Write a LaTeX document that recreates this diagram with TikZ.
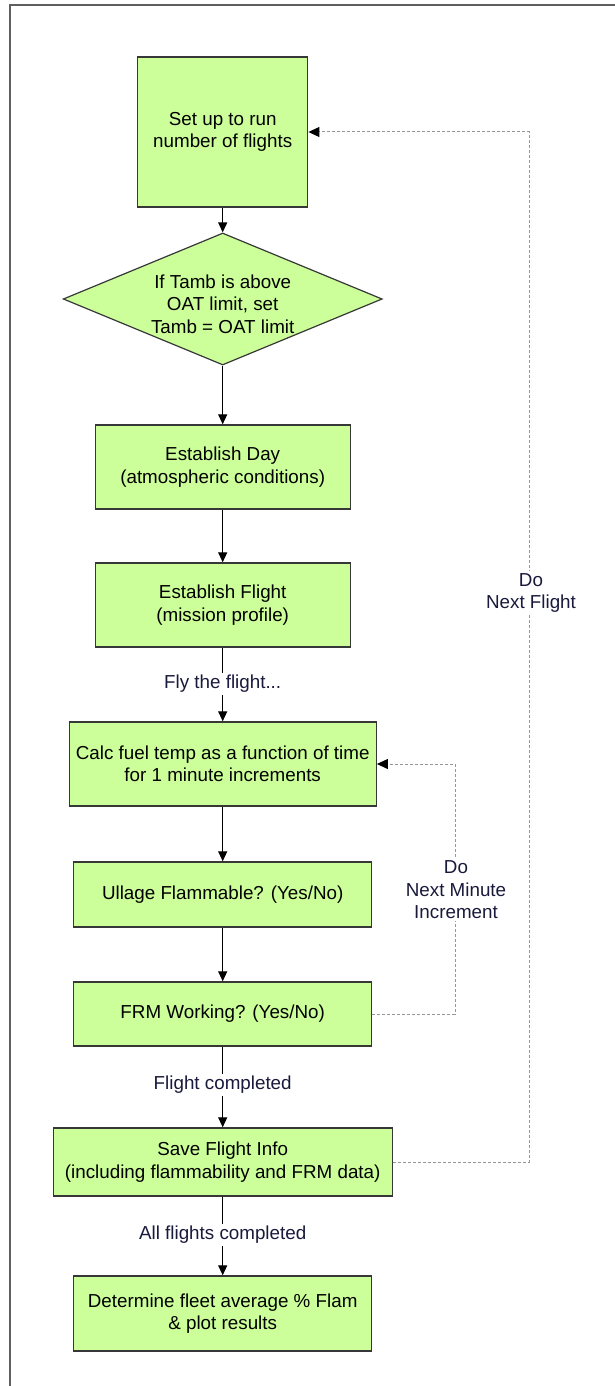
\documentclass[tikz,border=0pt]{standalone}
\usepackage{fontspec}
\setmainfont{Liberation Sans}
\usetikzlibrary{arrows.meta,shapes.geometric}
\definecolor{boxfill}{RGB}{204,255,153}
\definecolor{boxline}{RGB}{55,55,55}
\definecolor{dashgray}{RGB}{150,150,150}
\definecolor{framegray}{RGB}{95,95,95}
\definecolor{lbltext}{RGB}{25,25,60}
\begin{document}
\begin{tikzpicture}[x=1pt,y=-1pt,
  every node/.style={font=\fontsize{18.8}{22.5}\selectfont},
  flowbox/.style={draw=boxline,fill=boxfill,line width=1.4pt,rectangle,align=center,inner sep=0pt},
  decide/.style={draw=boxline,fill=boxfill,line width=1.2pt,diamond,inner sep=0pt},
  flowarrow/.style={-{Triangle[length=10pt,width=9pt]},line width=1.2pt,draw=black},
  looparrow/.style={-{Triangle[length=11pt,width=10pt,color=black]},draw=dashgray,line width=1pt,dash pattern=on 3pt off 2pt},
  lbl/.style={fill=white,inner sep=2pt,align=center,text=lbltext}
]
\useasboundingbox (0,0) rectangle (615,1386);
\fill[white] (0,0) rectangle (615,1386);
\draw[framegray,line width=2pt] (10,1386) -- (10,5) -- (615,5);

\node[flowbox,minimum width=170pt,minimum height=150pt] (setup) at (222.7,132) {Set up to run\\number of flights};
\node[decide,minimum width=319pt,minimum height=132pt] (dia) at (222.7,299) {};
\node[align=center,inner sep=0pt] (diatext) at (222.7,304) {If Tamb is above\\OAT limit, set\\Tamb = OAT limit};
\node[flowbox,minimum width=255pt,minimum height=84pt] (day) at (222.7,467) {Establish Day\\(atmospheric conditions)};
\node[flowbox,minimum width=255pt,minimum height=84pt] (flight) at (222.7,605) {Establish Flight\\(mission profile)};
\node[flowbox,minimum width=307pt,minimum height=84pt] (calc) at (222.7,764) {Calc fuel temp as a function of time\\for 1 minute increments};
\node[flowbox,minimum width=298pt,minimum height=65pt] (ullage) at (222.7,894.5) {Ullage Flammable? (Yes/No)};
\node[flowbox,minimum width=298pt,minimum height=64pt] (frm) at (222.7,1014) {FRM Working? (Yes/No)};
\node[flowbox,minimum width=339pt,minimum height=68pt] (save) at (222.7,1162) {Save Flight Info\\(including flammability and FRM data)};
\node[flowbox,minimum width=298pt,minimum height=75pt] (det) at (222.7,1313.5) {Determine fleet average \% Flam\\\& plot results};

\draw[flowarrow] (setup) -- (dia);
\draw[flowarrow] (dia) -- (day);
\draw[flowarrow] (day) -- (flight);
\draw[flowarrow] (flight) -- (calc);
\draw[flowarrow] (calc) -- (ullage);
\draw[flowarrow] (ullage) -- (frm);
\draw[flowarrow] (frm) -- (save);
\draw[flowarrow] (save) -- (det);

\node[lbl] (fly) at (222.7,684) {Fly the flight...};
\node[lbl] (fcomp) at (222.7,1085) {Flight completed};
\node[lbl] (allcomp) at (222.7,1235) {All flights completed};

\coordinate (inner) at (455,890);
\coordinate (outer) at (529,593);
\draw[looparrow] (frm.east) -| (inner) |- (calc.east);
\draw[looparrow] (save.east) -| (outer) |- (setup.east);
\node[lbl] (nextmin) at (456,890) {Do\\Next Minute\\Increment};
\node[lbl] (nextfl) at (531,593) {Do\\Next Flight};
\end{tikzpicture}
\end{document}
